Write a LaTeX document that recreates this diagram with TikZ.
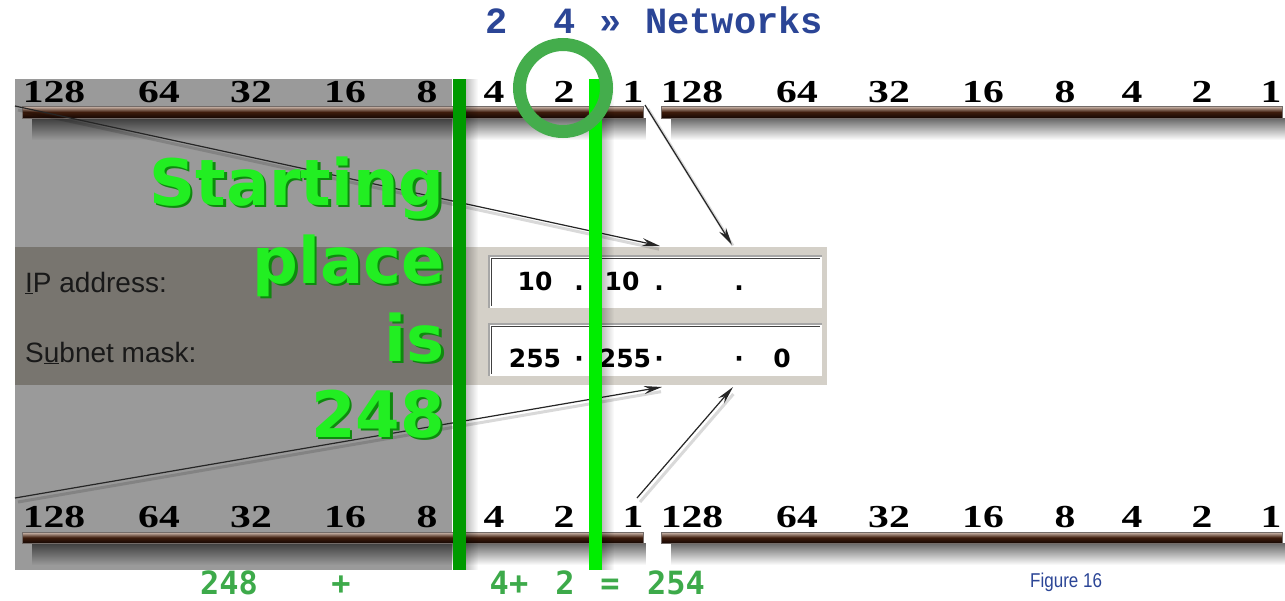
\documentclass[tikz,border=0pt]{standalone}
\usepackage{fontspec}
\setmainfont{Liberation Sans}
\newfontfamily\bitfont{Liberation Serif}
\newfontfamily\headfont{Liberation Mono}
\newfontfamily\sumfont{DejaVu Sans Mono}
\newfontfamily\bigfont{DejaVu Sans}
\usetikzlibrary{arrows.meta, positioning, calc, fadings}
\definecolor{panelgray}{HTML}{9A9A9A}
\definecolor{dlgdark}{HTML}{78756F}
\definecolor{dlgface}{HTML}{D4D0C8}
\definecolor{navy}{HTML}{2B4596}
\definecolor{sumgreen}{HTML}{3DAA4A}
\definecolor{ringgreen}{HTML}{44AD4C}
\definecolor{linedk}{HTML}{009A00}
\definecolor{linelt}{HTML}{00EE00}
\definecolor{biggreen}{HTML}{22EE22}
\definecolor{bigshade}{HTML}{0E8A0E}
\definecolor{barlt}{HTML}{D8C4B8}
\definecolor{barmid}{HTML}{3E1C0C}
\definecolor{bardk}{HTML}{160804}
\tikzset{
  bitnum/.style={font=\bitfont\bfseries\fontsize{32}{32}\selectfont, anchor=base, inner sep=0pt},
  bitbar/.style={rectangle, inner sep=0pt, minimum width=621pt, minimum height=12pt,
                 top color=barlt, bottom color=bardk, middle color=barmid, draw=bardk!60, line width=.4pt},
  barshadow/.style={fill=black, fill opacity=.6, path fading=south},
  field/.style={rectangle, inner sep=0pt, minimum width=331pt, minimum height=50pt,
                fill=white, draw=white, line width=1.5pt},
  fldedge/.style={draw=gray!70, line width=2pt},
  fldtxt/.style={font=\bigfont\bfseries\fontsize{25}{25}\selectfont, anchor=base, inner sep=0pt},
  dlglabel/.style={font=\fontsize{28}{28}\selectfont, text=black!90, anchor=base west, inner sep=0pt},
  bigtxt/.style={font=\bigfont\bfseries\fontsize{64}{64}\selectfont, anchor=base east, inner sep=0pt},
  headtxt/.style={font=\headfont\bfseries\fontsize{37}{37}\selectfont, text=navy, anchor=base, inner sep=0pt},
  sumtxt/.style={font=\sumfont\bfseries\fontsize{32}{32}\selectfont, text=sumgreen, anchor=base,
                 inner sep=0pt, text depth=0pt},
  ptr/.style={-{Stealth[length=18pt, width=8pt]}, line width=1.2pt, draw=black!85},
  ptrshadow/.style={line width=3pt, draw=black, draw opacity=.15, shorten >=4pt},
  lineshadow/.style={fill=black, fill opacity=.25, path fading=east},
}

\begin{document}
\begin{tikzpicture}[x=1pt, y=-1pt]
  \useasboundingbox (0,0) rectangle (1285,600);
  \fill[white] (0,0) rectangle (1285,600);

  % grey backdrop and the dialog strip
  \fill[panelgray] (15,79) rectangle (452,570);
  \fill[dlgdark] (15,247) rectangle (452,385);
  \fill[dlgface] (452,247) rectangle (827,385);

  % the two entry boxes
  \node[field] (ipfld) at (655.5,282) {};
  \node[field] (snfld) at (655.5,350) {};
  \foreach \f in {ipfld,snfld}{
    \draw[fldedge] (\f.south west) |- (\f.north east);
    \draw[black!75, line width=1.5pt] ([shift={(2pt,2pt)}]\f.south west) |- ([shift={(-2pt,-2pt)}]\f.north east);
  }
  \foreach \t/\x [count=\i] in {10/535, ./579, 10/622, ./659, ./739}
    \node[fldtxt] (ip\i) at (\x,290) {\t};
  \foreach \t/\x [count=\i] in {255/535, ·/579, 255/625, ·/659, ·/739, 0/782}
    \node[fldtxt] (sn\i) at (\x,367) {\t};
  \node[dlglabel] (iplbl) at (25,292) {\underline{I}P address:};
  \node[dlglabel] (snlbl) at (25,362) {S\underline{u}bnet mask:};

  % octet bars, shadow first
  \foreach \x/\y in {22/118, 661/118, 22/543, 661/543}
    \fill[barshadow] ({\x+10},\y) rectangle ({\x+624},{\y+22});
  \node[bitbar] (tlbar) at (332.5,112) {};
  \node[bitbar] (trbar) at (971.5,112) {};
  \node[bitbar, minimum height=11pt] (blbar) at (332.5,537.5) {};
  \node[bitbar, minimum height=11pt] (brbar) at (971.5,537.5) {};

  % place values
  \foreach \v/\x in {128/54, 64/159, 32/251, 16/345, 8/427, 4/494, 2/564, 1/633}{
    \node[bitnum] (tl\v) at (\x,102) {\scalebox{1.3}[1]{\v}};
    \node[bitnum] (tr\v) at ({\x+638},102) {\scalebox{1.3}[1]{\v}};
    \node[bitnum] (bl\v) at (\x,527) {\scalebox{1.3}[1]{\v}};
    \node[bitnum] (br\v) at ({\x+638},527) {\scalebox{1.3}[1]{\v}};
  }

  % pointers into the dialog
  \coordinate (tlstart) at (15,106);
  \coordinate (trstart) at (645,105);
  \coordinate (blstart) at (15,498);
  \coordinate (brstart) at (637,498);
  \coordinate (ipL) at (660,246);
  \coordinate (ipR) at (732,245);
  \coordinate (snL) at (662,387);
  \coordinate (snR) at (733,387);
  \foreach \s/\e in {tlstart/ipL, trstart/ipR, blstart/snL, brstart/snR}
    \draw[ptrshadow] ([shift={(3pt,-4pt)}]\s) -- ([shift={(3pt,-4pt)}]\e);
  \foreach \s/\e in {tlstart/ipL, trstart/ipR, blstart/snL, brstart/snR}
    \draw[ptr] (\s) -- (\e);

  % big caption
  \foreach \w/\y [count=\i] in {Starting/205, place/283, is/361, 248/437}{
    \node[bigtxt, text=bigshade] (bigsh\i) at ([shift={(2.5pt,-2.5pt)}]445,\y) {\w};
    \node[bigtxt, text=biggreen] (big\i) at (445,\y) {\w};
  }

  % boundary lines
  \fill[linedk] (453,79) rectangle (466,570);
  \fill[lineshadow] (466,79) rectangle (478,570);
  \fill[linelt] (589,79) rectangle (602,570);
  \fill[lineshadow] (602,79) rectangle (614,570);
  \draw[ringgreen, line width=13pt] (563,88) circle[radius=43.5pt];

  % headings and sums
  \node[headtxt] (hd2) at (497,33) {2};
  \node[headtxt] (hd4) at (565,33) {4};
  \node[headtxt] (hdq) at (611,33) {»};
  \node[headtxt, anchor=base west] (hdnet) at (645,33) {Networks};
  \node[sumtxt] (s248) at (229,594) {248};
  \node[sumtxt] (splus) at (341,594) {+};
  \node[sumtxt] (s4) at (509,594) {4+};
  \node[sumtxt] (s2) at (565,594) {2};
  \node[sumtxt] (seq) at (610,594) {=};
  \node[sumtxt] (s254) at (676,594) {254};
  \node[anchor=base west, inner sep=0pt, text=navy, font=\fontsize{20}{20}\selectfont] (fig) at (1030,587) {\scalebox{0.85}[1]{Figure 16}};
\end{tikzpicture}
\end{document}
